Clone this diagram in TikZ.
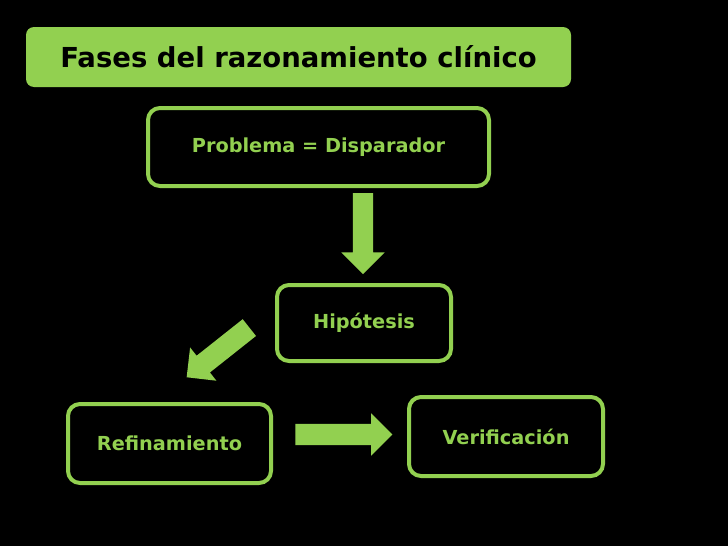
\documentclass[tikz,border=0pt]{standalone}
\usepackage{fontspec}
\setmainfont{DejaVu Sans}
\usetikzlibrary{shapes.arrows}
\definecolor{lgreen}{HTML}{92D050}
\begin{document}
\begin{tikzpicture}[x=1pt,y=-1pt,
  phase/.style={draw=lgreen, line width=4pt, rounded corners=12pt, inner sep=0pt,
    text=lgreen, font=\fontsize{19.3}{22}\selectfont\bfseries, fill=black},
  titlebox/.style={fill=lgreen, rounded corners=8pt, inner sep=0pt,
    text=black, font=\fontsize{27.5}{31}\selectfont\bfseries},
  blockarrow/.style={single arrow, fill=lgreen, draw=none, inner xsep=0pt,
    single arrow tip angle=90, single arrow head indent=0pt}
]
\fill[black] (0,0) rectangle (728,546);
\useasboundingbox (0,0) rectangle (728,546);

\node[titlebox, minimum width=545pt, minimum height=60pt] (title) at (298.5,57) {Fases del razonamiento clínico};

\node[phase, minimum width=341pt, minimum height=78pt] (prob) at (318.5,147) {Problema = Disparador};
\node[phase, minimum width=174pt, minimum height=76pt] (hip) at (364,323) {Hipótesis};
\node[phase, minimum width=203pt, minimum height=79pt] (ref) at (169.5,443.5) {Refinamiento};
\node[phase, minimum width=194pt, minimum height=79pt] (ver) at (506,436.5) {Verificación};

\node[blockarrow, minimum height=81pt, inner ysep=10pt, single arrow head extend=11.5pt, rotate=-90] (a1) at (363,228.5) {};
\node[blockarrow, minimum height=80pt, inner ysep=10.5pt, single arrow head extend=10.5pt, rotate=218.4] (a2) at (222.2,349.1) {};
\node[blockarrow, minimum height=97pt, inner ysep=10.5pt, single arrow head extend=10.5pt] (a3) at (338.5,434.5) {};
\end{tikzpicture}
\end{document}
